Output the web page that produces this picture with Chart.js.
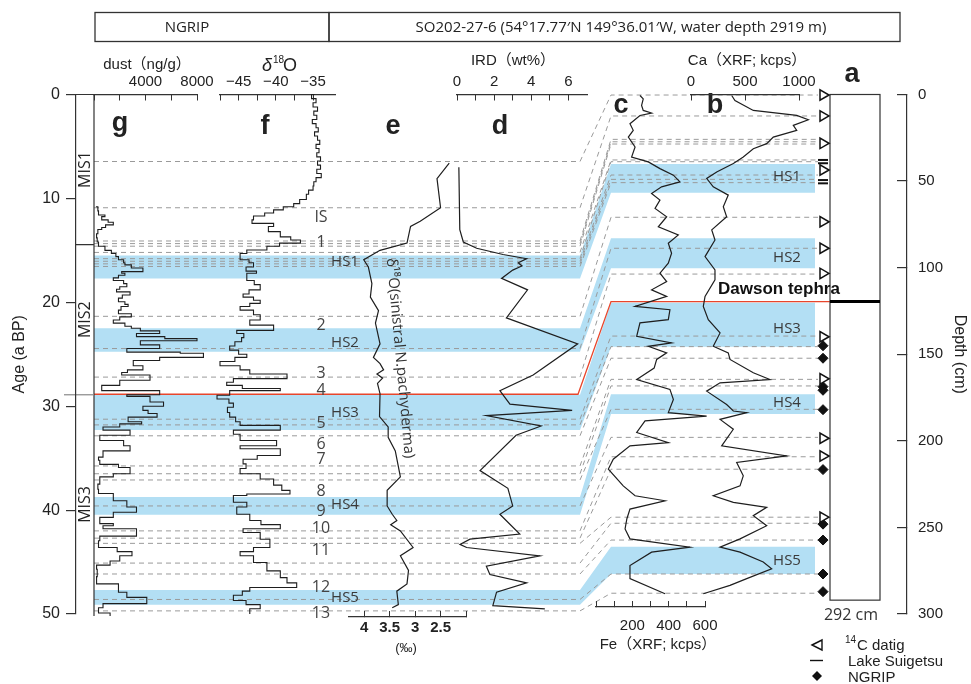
<!DOCTYPE html>
<html><head><meta charset="utf-8">
<script src="https://cdn.jsdelivr.net/npm/chart.js@4.4.1/dist/chart.umd.min.js"></script>
<style>
html,body{margin:0;padding:0;background:#fff;}
#wrap{position:relative;width:971px;height:684px;overflow:hidden;background:#fff;}
#wrap canvas{position:absolute;left:0;top:0;width:971px;height:684px;}
</style></head><body>
<div id="wrap">
<canvas id="cFrame" width="971" height="684"></canvas>
<canvas id="cDust" width="971" height="684"></canvas>
<canvas id="cNgrip" width="971" height="684"></canvas>
<canvas id="cPachy" width="971" height="684"></canvas>
<canvas id="cIrd" width="971" height="684"></canvas>
<canvas id="cFe" width="971" height="684"></canvas>
<canvas id="cCa" width="971" height="684"></canvas>
<canvas id="cMark" width="971" height="684"></canvas>
</div>
<script>
// ---------------- DATA ----------------
// g: NGRIP dust (ng/g) vs age (ka)
const dustAge = [10.8,11.2,11.6,11.75,12.07,12.3,12.55,12.8,13.0,13.4,13.8,14.2,14.6,15.0,15.3,15.6,15.9,16.2,16.4,16.7,17.05,17.2,17.4,17.65,17.9,18.2,18.5,18.75,19.0,19.3,19.6,19.95,20.2,20.4,20.75,21.1,21.4,21.7,22.0,22.3,22.5,22.75,23.0,23.3,23.5,23.7,24.1,24.45,24.8,24.9,25.3,25.6,26.1,26.5,26.75,27.0,27.5,28.0,28.5,28.9,29.05,29.6,30.0,30.4,30.7,31.05,31.5,31.7,32.0,32.3,32.8,33.3,33.8,34.3,34.9,35.2,35.6,35.9,36.5,36.8,37.5,38.0,38.4,39.1,39.7,40.2,40.7,41.3,41.5,41.8,42.5,42.95,43.6,44.0,44.4,44.9,45.3,45.7,46.4,47.1,47.9,48.4,49.0,49.4,49.9,50.2];
const dustVal = [150,300,350,850,600,1100,1500,900,600,300,200,250,350,850,1350,1700,1900,2300,2400,2900,3800,2150,2400,1900,1500,2300,2550,2000,1750,2800,2200,1900,2400,2650,2100,1900,2900,2000,1500,2400,2900,3600,5100,3300,5500,8000,3600,5100,2550,6700,8500,5100,3050,3800,2600,2150,4350,2000,600,5100,2550,4350,5400,3800,4200,4900,2650,3700,2000,700,2800,450,2300,2800,700,350,450,1900,2800,1500,450,300,350,1500,2550,3300,1500,450,1500,700,3300,450,350,1800,2950,2000,1250,200,250,200,1900,2550,4100,700,350,1250];

// f: NGRIP d18O (permil) vs age (ka)
const ngripAge = [0.0,0.4,0.8,1.2,1.6,2.0,2.4,2.8,3.2,3.6,4.0,4.4,4.8,5.2,5.6,6.0,6.4,6.8,7.2,7.6,8.0,8.4,8.8,9.2,9.6,10.1,10.5,10.8,11.1,11.4,11.7,12.07,12.4,12.7,13.2,13.7,14.0,14.3,14.6,14.96,15.3,15.9,16.2,16.6,17.0,17.2,17.5,17.9,18.3,18.8,19.2,19.5,19.8,20.1,20.4,20.75,21.2,21.7,22.2,22.7,23.0,23.4,23.8,24.2,24.6,25.0,25.3,25.7,26.1,26.5,26.9,27.35,27.7,28.0,28.3,28.5,28.95,29.3,29.7,30.1,30.6,31.05,31.5,31.85,32.3,32.7,33.3,33.8,34.1,34.75,35.1,35.55,36.0,36.5,37.0,37.6,38.1,38.45,38.6,39.25,39.7,40.4,41.0,41.4,41.8,42.15,42.8,43.6,44.0,44.4,45.05,45.85,46.5,47.0,47.45,47.8,48.2,48.7,49.1,49.5,50.0];
const ngripD18O = [-34.8,-35.2,-34.6,-35.0,-34.4,-34.9,-34.5,-35.1,-34.6,-34.3,-34.8,-34.4,-34.1,-34.6,-34.2,-34.5,-34.0,-34.4,-34.0,-34.5,-33.9,-34.6,-34.9,-35.0,-35.6,-35.9,-36.8,-37.6,-39.0,-40.3,-41.5,-43.0,-43.2,-40.3,-41.0,-39.4,-38.0,-36.7,-39.5,-41.2,-43.9,-44.8,-43.6,-43.0,-44.0,-42.6,-43.9,-43.9,-42.9,-42.1,-43.6,-44.4,-43.0,-42.1,-43.5,-44.8,-43.0,-42.1,-43.5,-40.3,-45.25,-44.3,-44.6,-45.5,-46.2,-45.0,-43.9,-45.5,-47.5,-44.8,-43.5,-38.5,-45.7,-46.6,-44.5,-39.4,-46.2,-47.9,-46.3,-45.7,-46.5,-46.2,-45.4,-44.8,-39.4,-45.7,-44.8,-39.9,-44.8,-39.4,-42.5,-44.4,-44.0,-44.8,-42.1,-40.3,-39.2,-38.1,-43.9,-45.7,-43.9,-45.25,-43.5,-42.0,-39.4,-44.4,-42.1,-40.8,-43.0,-44.8,-43.0,-41.2,-39.4,-38.5,-37.2,-43.5,-44.5,-45.7,-44.0,-42.1,-43.5];

// e: d18O of sinistral N. pachyderma (permil) vs age (ka)
const pachyAge = [6.6,8.1,10.9,12.2,12.7,14.3,15.0,15.9,16.6,18.2,19.5,20.8,22.0,24.0,25.3,25.9,26.5,26.9,27.3,27.8,28.8,31.0,32.0,33.0,34.3,36.8,38.1,39.6,40.4,41.0,41.4,42.0,43.6,44.4,45.8,47.1,47.8,49.1,49.4];
const pachyD18O = [2.33,2.57,2.50,2.90,3.09,3.16,3.69,4.01,3.92,3.85,3.88,3.72,3.78,3.69,3.82,3.69,3.62,3.75,3.64,3.74,3.69,3.70,3.53,3.53,3.39,3.29,3.55,3.55,3.45,3.36,3.48,3.29,3.04,3.29,3.13,3.16,3.36,3.33,3.45];

// d: IRD (wt%) vs age (ka)
const irdAge = [7.0,13.0,14.2,14.8,15.4,15.8,16.2,16.5,16.9,17.7,18.8,21.5,24.0,27.0,28.5,29.8,30.4,30.9,31.9,32.8,36.2,37.9,39.6,40.4,42.3,42.8,43.3,43.6,44.4,45.4,46.2,47.0,47.9,49.2,49.5];
const irdVal = [0.1,0.15,0.34,1.06,2.48,3.75,3.3,3.5,3.0,2.4,3.8,2.66,6.5,4.1,2.31,2.85,6.2,1.58,4.53,3.18,1.24,2.74,3.0,2.31,3.38,0.7,0.16,0.52,4.46,1.58,1.77,3.75,2.13,1.93,4.73];

// c: Fe (XRF; kcps) vs depth (cm)
const feDepth = [0.6,2.5,6.3,9.2,10.7,12.1,16.9,20.7,24.6,30.3,36.1,38.9,42.8,46.6,50.5,53.3,57.2,61.0,65.8,70.6,76.4,81.1,85.9,91.7,97.4,103.2,108,112.8,116.6,122.4,124.3,130,131.9,139.6,143.4,145.4,149.2,153,158,164.6,170.3,176.1,183.7,185.7,188.5,195.2,201,202.9,210.6,216.3,226,231.7,234.6,239.4,245,250.9,256.6,261.4,264.3,272,279.6,288.3];
const feVal = [242,260,251,260,306,242,187,205,178,215,196,288,352,426,462,361,306,352,325,389,343,453,398,416,398,352,389,306,389,215,407,398,242,224,416,288,389,334,320,224,407,426,398,609,270,224,398,187,95,68,150,215,380,187,170,160,187,517,306,187,187,380];

// b: Ca (XRF; kcps) vs depth (cm)
const caDepth = [0.6,3.5,9.2,12.1,14.6,17.8,20.7,24.6,28.4,31.3,36.1,39.9,44.7,48.5,53.3,58.1,64.8,70.6,78.2,84,93.6,101.3,107,116.6,122.4,130,137.7,145.4,149.2,153,160.7,164.6,166.5,171.3,179,182.8,183.7,187.6,193.3,202.9,208.7,212.5,220.2,226,231.7,235.5,238.4,243.2,249,256.6,261.4,264.3,270,273.9,279.6,283.5,288.3];
const caVal = [377,407,577,979,1086,947,979,762,701,577,484,392,238,145,206,345,299,330,192,222,130,222,222,130,114,160,269,206,345,361,577,731,269,145,330,392,516,269,392,284,886,423,484,454,206,392,701,577,701,454,269,454,669,747,516,361,114];

// Heinrich stadials: age range (left) and depth range (right)
const hsNames = ['HS1','HS2','HS3','HS4','HS5'];
const hsAgeTop = [15.5,22.5,28.9,38.75,47.7];
const hsAgeBot = [17.7,24.75,32.3,40.45,49.1];
const hsDepthTop = [40.1,83.0,120.2,173.1,261.1];
const hsDepthBot = [56.7,100.4,145.6,184.5,276.9];
const hsLabelAge = [16.1,23.9,30.6,39.5,48.4];
const hsLabelDepth = [47.5,94.3,135.4,178.2,269.2];

// tie points (dashed lines) age -> depth
const tieAge = [6.45,10.9,14.1,14.35,14.6,15.2,15.8,16.05,16.3,16.55,21.35,24.45,27.2,31.25,31.8,32.85,35.75,36.5,37.1,39.6,42.0,42.7,43.2,45.1,46.15,48.6,49.7];
const tieDepth = [0.3,12.4,25.9,27.3,28.6,37.8,38.8,46.5,49.0,50.9,70.9,88.8,103.7,139.5,145.6,152.3,164.5,168.3,181.8,198,209.2,216.4,244.1,247.6,257.3,276.9,288];

// Dawson tephra
const dawsonAge = 28.85;
const dawsonDepth = 119.6;
const coreLength = 292;

// interstadial labels
const isLabels = ['IS','1','2','3','4','5','6','7','8','9','10','11','12','13'];
const isAges = [11.86,14.26,22.2,26.8,28.5,31.7,33.7,35.1,38.2,40.1,41.75,43.9,47.4,49.9];

// MIS boundaries
const misNames = ['MIS1','MIS2','MIS3'];
const misBounds = [0,14.45,28.9,50];

// dating markers (depth, cm)
const c14Depth = [0.3,12.4,28.2,43.6,73.5,88.8,103.3,139.9,164.2,198.5,208.8,244.1];
const suigetsuDepth = [37.8,39.7,49.4,51.3];
const ngripTieDepth = [145.1,152.3,168.7,170.8,182.0,216.6,248.1,257.3,276.9,287.1];

// ---------------- LAYOUT / STYLE ----------------
const W = 971, H = 684, TOP = 94.5, BOT = 614;
const SANS = '"Liberation Sans", Arial, "Noto Sans CJK JP", sans-serif';
const LIGHT = '"Open Sans", "Noto Sans", "Noto Sans CJK JP", sans-serif';
const INK = '#222';
const BAND = '#b3dff4';
const X_L0 = 94, X_K1 = 580, X_K2 = 611, X_R1 = 815, X_DEND = 818, CORE_L = 830, CORE_R = 880;

Chart.defaults.font.family = SANS;
Chart.defaults.color = INK;

function pts(ys, xs) { return xs.map((v, i) => ({x: v, y: ys[i]})); }
function lineDs(data, stepped) {
  return {data, showLine: true, stepped: stepped ? 'before' : false, borderColor: '#1e1e1e',
    borderWidth: stepped ? 1.1 : 1.2, pointRadius: 0, fill: false, clip: false, tension: 0};
}
function xAxis(o) {
  if (!o.pos) return {type: 'linear', display: false, min: o.min, max: o.max};
  return {
    type: 'linear', position: o.pos, min: o.min, max: o.max, reverse: !!o.reverse,
    afterBuildTicks: s => { s.ticks = o.ticks.map(v => ({value: v})); },
    afterFit: s => { s.height = 30; },
    grid: {display: true, drawOnChartArea: false, drawTicks: true, tickLength: -6, color: '#333', lineWidth: 1},
    border: {display: true, color: '#333', width: 1.2},
    ticks: {autoSkip: false, maxRotation: 0, padding: o.pad, color: INK,
      font: o.font || {family: SANS, size: 15},
      callback: v => o.labels.includes(v) ? (o.fmt ? o.fmt(v) : String(v)) : ''}
  };
}
function panel(id, o) {
  const AX = 30;
  let top = o.T, bottom = H - o.B;
  if (o.pos === 'top') top = o.T - AX;
  if (o.pos === 'bottom') bottom = H - o.B - AX;
  return new Chart(document.getElementById(id), {
    type: 'scatter',
    data: {datasets: o.datasets},
    options: {
      responsive: false, animation: false, devicePixelRatio: 1, events: [],
      layout: {padding: {left: o.L, right: W - o.R, top, bottom}},
      plugins: {legend: {display: false}, tooltip: {enabled: false}},
      scales: {
        x: xAxis(o),
        y: {type: 'linear', display: false, min: o.yMin, max: o.yMax, reverse: true}
      }
    }
  });
}

// ---------------- FRAME (bands, tie lines, axes, text) ----------------
function txt(ctx, s, x, y, font, align, base, color) {
  ctx.font = font; ctx.textAlign = align || 'center'; ctx.textBaseline = base || 'middle';
  ctx.fillStyle = color || INK; ctx.fillText(s, x, y);
}
const framePlugin = {
  id: 'frame',
  beforeDraw(chart) {
    const ctx = chart.ctx, A = chart.scales.age, D = chart.scales.depth;
    const yA = v => A.getPixelForValue(v), yD = v => D.getPixelForValue(v);
    ctx.save();
    // Heinrich stadial bands
    ctx.fillStyle = BAND;
    hsNames.forEach((n, i) => {
      ctx.beginPath();
      ctx.moveTo(X_L0, yA(hsAgeTop[i])); ctx.lineTo(X_K1, yA(hsAgeTop[i]));
      ctx.lineTo(X_K2, yD(hsDepthTop[i])); ctx.lineTo(X_R1, yD(hsDepthTop[i]));
      ctx.lineTo(X_R1, yD(hsDepthBot[i])); ctx.lineTo(X_K2, yD(hsDepthBot[i]));
      ctx.lineTo(X_K1, yA(hsAgeBot[i])); ctx.lineTo(X_L0, yA(hsAgeBot[i]));
      ctx.closePath(); ctx.fill();
    });
    // dashed tie lines
    ctx.strokeStyle = '#9a9a9a'; ctx.lineWidth = 1; ctx.setLineDash([5, 4]);
    tieAge.forEach((a, i) => {
      ctx.beginPath();
      ctx.moveTo(X_L0, yA(a)); ctx.lineTo(X_K1, yA(a));
      ctx.lineTo(X_K2, yD(tieDepth[i])); ctx.lineTo(X_DEND, yD(tieDepth[i]));
      ctx.stroke();
    });
    ctx.setLineDash([]);
    // Dawson tephra (red)
    ctx.strokeStyle = '#e8462c'; ctx.lineWidth = 1.3;
    ctx.beginPath();
    ctx.moveTo(X_L0, yA(dawsonAge)); ctx.lineTo(X_K1 - 2, yA(dawsonAge));
    ctx.lineTo(X_K2, yD(dawsonDepth)); ctx.lineTo(CORE_L, yD(dawsonDepth));
    ctx.stroke();
    // core column a
    ctx.strokeStyle = '#333'; ctx.lineWidth = 1.2;
    ctx.strokeRect(CORE_L, yD(0), CORE_R - CORE_L, yD(coreLength) - yD(0));
    ctx.strokeStyle = '#000'; ctx.lineWidth = 3;
    ctx.beginPath(); ctx.moveTo(CORE_L, yD(dawsonDepth)); ctx.lineTo(CORE_R, yD(dawsonDepth)); ctx.stroke();
    // MIS box
    ctx.strokeStyle = '#333'; ctx.lineWidth = 1.2;
    ctx.beginPath();
    ctx.moveTo(76, TOP); ctx.lineTo(X_L0, TOP);
    ctx.moveTo(X_L0, TOP); ctx.lineTo(X_L0, BOT + 2);
    ctx.moveTo(76, yA(misBounds[1])); ctx.lineTo(X_L0, yA(misBounds[1]));
    ctx.stroke();
    ctx.strokeStyle = '#888';
    ctx.beginPath(); ctx.moveTo(64, yA(misBounds[2])); ctx.lineTo(X_L0, yA(misBounds[2])); ctx.stroke();
    ctx.restore();
  },
  afterDraw(chart) {
    const ctx = chart.ctx, A = chart.scales.age, D = chart.scales.depth;
    const yA = v => A.getPixelForValue(v), yD = v => D.getPixelForValue(v);
    ctx.save();
    // header boxes
    ctx.strokeStyle = '#333'; ctx.lineWidth = 1.3;
    ctx.strokeRect(95, 12.5, 234, 29);
    ctx.strokeRect(329, 12.5, 571, 29);
    txt(ctx, 'NGRIP', 187, 27.5, '15px ' + LIGHT);
    txt(ctx, 'SO202-27-6 (54°17.77′N 149°36.01′W, water depth 2919 m)', 621, 27.5, '15px ' + LIGHT);
    // panel titles
    txt(ctx, 'dust（ng/g）', 147, 65, '15px ' + SANS);
    ctx.font = 'italic 18px ' + SANS; ctx.textAlign = 'left'; ctx.textBaseline = 'alphabetic';
    ctx.fillStyle = INK; ctx.fillText('δ', 262, 71);
    txt(ctx, '18', 273, 63, '10px ' + SANS, 'left', 'alphabetic');
    txt(ctx, 'O', 283, 71, '18px ' + SANS, 'left', 'alphabetic');
    txt(ctx, 'IRD（wt%）', 513, 61, '15px ' + SANS);
    txt(ctx, 'Ca（XRF; kcps）', 747, 61, '15px ' + SANS);
    txt(ctx, 'Fe（XRF; kcps）', 658, 645, '15px ' + SANS);
    txt(ctx, '(‰)', 406, 648, '13px ' + SANS);
    // panel letters
    const bold = 'bold 27px ' + SANS;
    txt(ctx, 'g', 120, 131, bold, 'center', 'alphabetic');
    txt(ctx, 'f', 265, 134, bold, 'center', 'alphabetic');
    txt(ctx, 'e', 393, 134, bold, 'center', 'alphabetic');
    txt(ctx, 'd', 500, 134, bold, 'center', 'alphabetic');
    txt(ctx, 'c', 621, 113, bold, 'center', 'alphabetic');
    txt(ctx, 'b', 715, 113, bold, 'center', 'alphabetic');
    txt(ctx, 'a', 852, 82, bold, 'center', 'alphabetic');
    // MIS labels
    misNames.forEach((m, i) => {
      ctx.save();
      ctx.translate(85.5, yA((misBounds[i] + misBounds[i + 1]) / 2));
      ctx.rotate(-Math.PI / 2);
      txt(ctx, m, 0, 0, '16px ' + LIGHT);
      ctx.restore();
    });
    // interstadial numbers
    isLabels.forEach((s, i) => txt(ctx, s, 321, yA(isAges[i]), '16px ' + LIGHT, 'center', 'middle', '#444'));
    // HS labels
    hsNames.forEach((s, i) => {
      txt(ctx, s, 345, yA(hsLabelAge[i]), '15px ' + LIGHT, 'center', 'middle', '#3a3a3a');
      txt(ctx, s, 787, yD(hsLabelDepth[i]), '15px ' + LIGHT, 'center', 'middle', '#3a3a3a');
    });
    // rotated e-label
    ctx.save();
    ctx.translate(391, 258);
    ctx.rotate(Math.atan2(220, 20));
    txt(ctx, 'δ¹⁸O(sinistral N.pachyderma)', 0, 0, '15px ' + LIGHT, 'left', 'middle', '#333');
    ctx.restore();
    // Dawson label and core length
    txt(ctx, 'Dawson tephra', 718, 294, 'bold 17px ' + SANS, 'left', 'alphabetic', '#111');
    txt(ctx, '292 cm', 851, 615, '16px ' + LIGHT, 'center', 'middle', '#333');
    // legend
    ctx.strokeStyle = '#111'; ctx.fillStyle = '#fff'; ctx.lineWidth = 1.4;
    ctx.beginPath(); ctx.moveTo(812, 645); ctx.lineTo(822, 640); ctx.lineTo(822, 650); ctx.closePath();
    ctx.fill(); ctx.stroke();
    ctx.beginPath(); ctx.moveTo(810, 660.5); ctx.lineTo(823, 660.5); ctx.stroke();
    ctx.fillStyle = '#111';
    ctx.beginPath(); ctx.moveTo(817, 671); ctx.lineTo(822, 676); ctx.lineTo(817, 681); ctx.lineTo(812, 676); ctx.closePath(); ctx.fill();
    txt(ctx, '14', 845, 643, '10px ' + SANS, 'left', 'alphabetic');
    txt(ctx, 'C datig', 857, 650, '15px ' + SANS, 'left', 'alphabetic');
    txt(ctx, 'Lake Suigetsu', 848, 666, '15px ' + SANS, 'left', 'alphabetic');
    txt(ctx, 'NGRIP', 848, 682, '15px ' + SANS, 'left', 'alphabetic');
    ctx.restore();
  }
};

new Chart(document.getElementById('cFrame'), {
  type: 'scatter',
  data: {datasets: []},
  options: {
    responsive: false, animation: false, devicePixelRatio: 1, events: [],
    layout: {padding: {left: 0, right: 0, top: TOP, bottom: H - BOT}},
    plugins: {legend: {display: false}, tooltip: {enabled: false}},
    scales: {
      x: {type: 'linear', display: false, min: 0, max: 1},
      age: {type: 'linear', position: 'left', min: 0, max: 50, reverse: true,
        afterFit: s => { s.width = 76; },
        ticks: {stepSize: 10, padding: 6, color: INK, font: {family: SANS, size: 16}},
        grid: {drawOnChartArea: false, tickLength: 10, color: '#333', lineWidth: 1.2},
        border: {display: true, color: '#333', width: 1.2},
        title: {display: true, text: 'Age (a BP)', color: INK, font: {family: SANS, size: 16}, padding: {top: 10, bottom: 0}}
      },
      depth: {type: 'linear', position: 'right', min: 0, max: 300, reverse: true,
        afterFit: s => { s.width = 64; },
        ticks: {stepSize: 50, padding: 21, color: INK, font: {family: SANS, size: 15}},
        grid: {drawOnChartArea: false, tickLength: -10, color: '#333', lineWidth: 1.2},
        border: {display: true, color: '#333', width: 1.2},
        title: {display: true, text: 'Depth (cm)', color: INK, font: {family: SANS, size: 16}, padding: {top: 2, bottom: 0}}
      }
    }
  },
  plugins: [framePlugin]
});

// ---------------- PANELS ----------------
const ageMaxAt = b => 50 * (b - TOP) / (BOT - TOP);
const depthMaxAt = b => 300 * (b - TOP) / (BOT - TOP);
const minusFmt = v => '−' + Math.abs(v);

panel('cDust', {L: 94, R: 197, T: TOP, B: BOT, pos: 'top', min: 0, max: 8000,
  ticks: [0, 2000, 4000, 6000, 8000], labels: [4000, 8000], pad: 10,
  yMin: 0, yMax: 50, datasets: [lineDs(pts(dustAge, dustVal), true)]});

panel('cNgrip', {L: 220, R: 335.4, T: TOP, B: BOT, pos: 'top', min: -47.5, max: -32,
  ticks: [-47.5, -45, -42.5, -40, -37.5, -35], labels: [-45, -40, -35], fmt: minusFmt, pad: 10,
  yMin: 0, yMax: 50, datasets: [lineDs(pts(ngripAge, ngripD18O), true)]});

panel('cPachy', {L: 349, R: 466, T: TOP, B: 617, pos: 'bottom', min: 2, max: 4.3, reverse: true,
  ticks: [4, 3.5, 3, 2.5, 2], labels: [4, 3.5, 3, 2.5], pad: 8,
  font: {family: SANS, size: 15, weight: 'bold'},
  yMin: 0, yMax: ageMaxAt(617), datasets: [lineDs(pts(pachyAge, pachyD18O), false)]});

panel('cIrd', {L: 457, R: 587, T: TOP, B: BOT, pos: 'top', min: 0, max: 7,
  ticks: [0, 1, 2, 3, 4, 5, 6], labels: [0, 2, 4, 6], pad: 10,
  yMin: 0, yMax: 50, datasets: [lineDs(pts(irdAge, irdVal), false)]});

panel('cFe', {L: 596, R: 705, T: TOP, B: 607, pos: 'bottom', min: 0, max: 600,
  ticks: [0, 100, 200, 300, 400, 500, 600], labels: [200, 400, 600], pad: 16,
  yMin: 0, yMax: depthMaxAt(607), datasets: [lineDs(pts(feDepth, feVal), false)]});

panel('cCa', {L: 691, R: 799, T: TOP, B: 607, pos: 'top', min: 0, max: 1000,
  ticks: [0, 500, 1000], labels: [0, 500, 1000], pad: 10,
  yMin: 0, yMax: depthMaxAt(607), datasets: [lineDs(pts(caDepth, caVal), false)]});

// dating markers column
const col = arr => arr.map(d => ({x: 0.5, y: d}));
panel('cMark', {L: 812, R: 834, T: TOP, B: BOT, pos: null, min: 0, max: 1,
  yMin: 0, yMax: 300, datasets: [
    {data: col(c14Depth), showLine: false, pointStyle: 'triangle', rotation: 90, radius: 6,
      borderColor: '#111', backgroundColor: '#fff', borderWidth: 1.5, clip: false},
    {data: col(suigetsuDepth), showLine: false, pointStyle: 'line', radius: 5,
      borderColor: '#111', borderWidth: 2, clip: false},
    {data: col(ngripTieDepth), showLine: false, pointStyle: 'rectRot', radius: 5,
      borderColor: '#111', backgroundColor: '#111', borderWidth: 1, clip: false}
  ]});
</script>
</body></html>
